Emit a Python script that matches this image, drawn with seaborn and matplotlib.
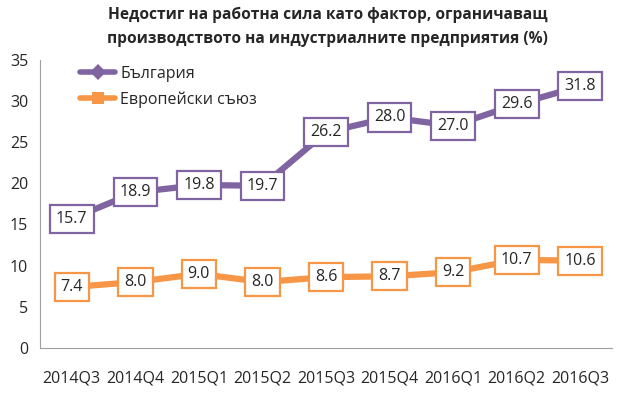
import pandas as pd
import matplotlib
matplotlib.use("Agg")
import matplotlib.pyplot as plt
import seaborn as sns

quarters = ["2014Q3", "2014Q4", "2015Q1", "2015Q2", "2015Q3",
            "2015Q4", "2016Q1", "2016Q2", "2016Q3"]
bulgaria = [15.7, 18.9, 19.8, 19.7, 26.2, 28.0, 27.0, 29.6, 31.8]
eu = [7.4, 8.0, 9.0, 8.0, 8.6, 8.7, 9.2, 10.7, 10.6]

sns.set_style("white")
plt.rcParams['font.family'] = ['Open Sans', 'DejaVu Sans']

purple = "#8064A2"
orange = "#F79646"

df = pd.DataFrame({"q": quarters * 2,
                   "v": bulgaria + eu,
                   "s": ["България"] * 9 + ["Европейски съюз"] * 9})
df["x"] = list(range(9)) * 2

fig = plt.figure(figsize=(6.3, 3.94), dpi=100)
ax = fig.add_axes([0.0635, 0.117, 0.908, 0.731])

sns.lineplot(data=df, x="x", y="v", hue="s", style="s",
             palette=[purple, orange], markers=["D", "s"], dashes=False,
             linewidth=4.5, markersize=8, markeredgewidth=0, ax=ax)

for x, v in enumerate(bulgaria):
    ax.text(x, v, f"{v:.1f}", ha="center", va="center", fontsize=11.5, zorder=5,
            bbox=dict(boxstyle="square,pad=0.38", fc="white", ec=purple, lw=1.6))
for x, v in enumerate(eu):
    ax.text(x, v, f"{v:.1f}", ha="center", va="center", fontsize=11.5, zorder=5,
            bbox=dict(boxstyle="square,pad=0.38", fc="white", ec=orange, lw=1.6))

ax.set_xlim(-0.5, 8.5)
ax.set_ylim(0, 35)
ax.set_yticks(range(0, 36, 5))
ax.set_xticks(range(9))
ax.set_xticklabels(quarters)
ax.set_xticks([i - 0.5 for i in range(10)], minor=True)
ax.tick_params(axis="x", which="major", length=0, pad=16, labelsize=11.5)
ax.tick_params(axis="x", which="minor", length=5, color="#A0A0A0", direction="out")
ax.tick_params(axis="y", length=5, color="#A0A0A0", direction="out", labelsize=11.5)
ax.set_xlabel("")
ax.set_ylabel("")
for side in ["top", "right"]:
    ax.spines[side].set_visible(False)
for side in ["left", "bottom"]:
    ax.spines[side].set_color("#A0A0A0")

leg = ax.legend(loc="upper left", bbox_to_anchor=(0.045, 1.03), frameon=False,
                fontsize=11.5, handlelength=2.2, handletextpad=0.3,
                labelspacing=0.6)
for h in leg.get_lines():
    h.set_linewidth(4)

fig.suptitle("Недостиг на работна сила като фактор, ограничаващ\n"
             "производството на индустриалните предприятия (%)",
             x=0.52, y=0.983, fontsize=11.2, fontweight="bold", linespacing=1.7)

fig.savefig("out.png", dpi=100)
